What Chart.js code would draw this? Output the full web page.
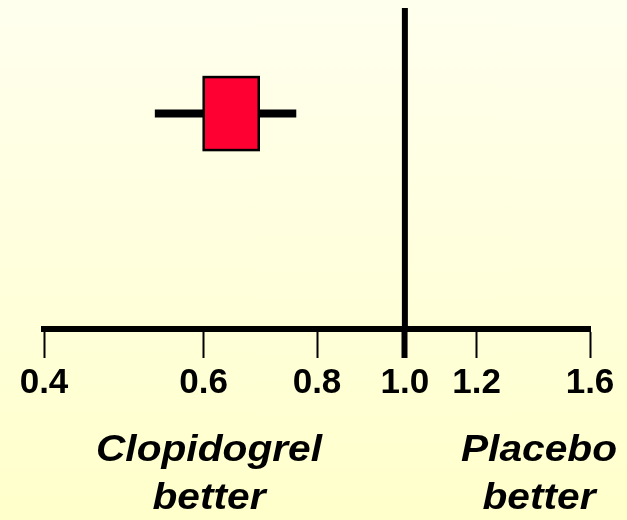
<!DOCTYPE html>
<html>
<head>
<meta charset="utf-8">
<script src="https://cdn.jsdelivr.net/npm/chart.js@4.4.1/dist/chart.umd.min.js"></script>
<style>
  html, body { margin: 0; padding: 0; }
  #wrap { position: relative; width: 627px; height: 520px;
          background: linear-gradient(to bottom, #FFFFEE 0%, #FFFFDD 50%, #FFFFCB 100%); }
  canvas { display: block; }
</style>
</head>
<body>
<div id="wrap"><canvas id="c" width="627" height="520"></canvas></div>
<script>
// ---- data ----
const studyLabels = ['Clopidogrel vs Placebo'];
const pointEstimates = [0.643];
const ciLower = [0.530];
const ciUpper = [0.759];
const boxLower = [0.600];   // extent of the weight box
const boxUpper = [0.690];
const studyRows = [2];
const tickValues = [0.4, 0.6, 0.8, 1.0, 1.2, 1.6];
const referenceValue = [1.0];
const sideLabels = [['Clopidogrel', 'better'], ['Placebo', 'better']];
const rowRange = [0, 2.98];

// weight box drawn from the scale values
const boxPlugin = {
  id: 'forestBox',
  afterDatasetsDraw(chart) {
    const { ctx, scales: { x, y } } = chart;
    ctx.save();
    studyRows.forEach((r, i) => {
      const x0 = x.getPixelForValue(boxLower[i]);
      const x1 = x.getPixelForValue(boxUpper[i]);
      const yc = y.getPixelForValue(r);
      const h = 73;
      ctx.fillStyle = '#FF0033';
      ctx.fillRect(x0, yc - h / 2, x1 - x0, h);
      ctx.lineWidth = 2.5;
      ctx.strokeStyle = '#000';
      ctx.strokeRect(x0, yc - h / 2, x1 - x0, h);
    });
    ctx.restore();
  }
};

const sideTextPlugin = {
  id: 'sideText',
  afterDraw(chart) {
    const { ctx } = chart;
    ctx.fillStyle = '#000';
    ctx.font = 'italic bold 37px "Liberation Sans", Arial, sans-serif';
    ctx.textAlign = 'center';
    ctx.textBaseline = 'alphabetic';
    const centers = [209, 539];
    const baselines = [461, 509];
    sideLabels.forEach((lines, i) => {
      lines.forEach((t, j) => {
        ctx.save();
        ctx.translate(centers[i], baselines[j]);
        ctx.scale(1.1, 1);
        ctx.fillText(t, 0, 0);
        ctx.restore();
      });
    });
  }
};

const ciData = [];
studyRows.forEach((r, i) => {
  ciData.push({ x: ciLower[i], y: r }, { x: ciUpper[i], y: r }, { x: null, y: null });
});

new Chart(document.getElementById('c'), {
  type: 'scatter',
  data: {
    datasets: [
      {
        label: 'Reference',
        data: [{ x: referenceValue[0], y: rowRange[0] }, { x: referenceValue[0], y: rowRange[1] }],
        showLine: true, borderColor: '#000', borderWidth: 6, pointRadius: 0, borderCapStyle: 'butt'
      },
      {
        label: studyLabels[0],
        data: ciData,
        showLine: true, spanGaps: false, borderColor: '#000', borderWidth: 8, pointRadius: 0, borderCapStyle: 'butt'
      }
    ]
  },
  options: {
    responsive: false,
    animation: false,
    layout: { padding: { left: 44, right: 37, top: 8, bottom: 112 } },
    plugins: { legend: { display: false }, tooltip: { enabled: false } },
    scales: {
      x: {
        type: 'logarithmic',
        min: tickValues[0],
        max: tickValues[tickValues.length - 1],
        afterBuildTicks(scale) { scale.ticks = tickValues.map(v => ({ value: v })); },
        grid: {
          drawOnChartArea: false,
          drawTicks: true,
          tickLength: 29,
          tickColor: '#000',
          tickWidth: (c) => (c.tick && c.tick.value === referenceValue[0] ? 6 : 2)
        },
        border: { display: true, color: '#000', width: 6 },
        ticks: {
          color: '#000',
          padding: 4,
          maxRotation: 0,
          autoSkip: false,
          font: { family: '"Liberation Sans", Arial, sans-serif', size: 35, weight: 'bold' },
          callback: (v) => Number(v).toFixed(1)
        }
      },
      y: {
        type: 'linear',
        display: false,
        min: rowRange[0],
        max: rowRange[1]
      }
    }
  },
  plugins: [boxPlugin, sideTextPlugin]
});
</script>
</body>
</html>
